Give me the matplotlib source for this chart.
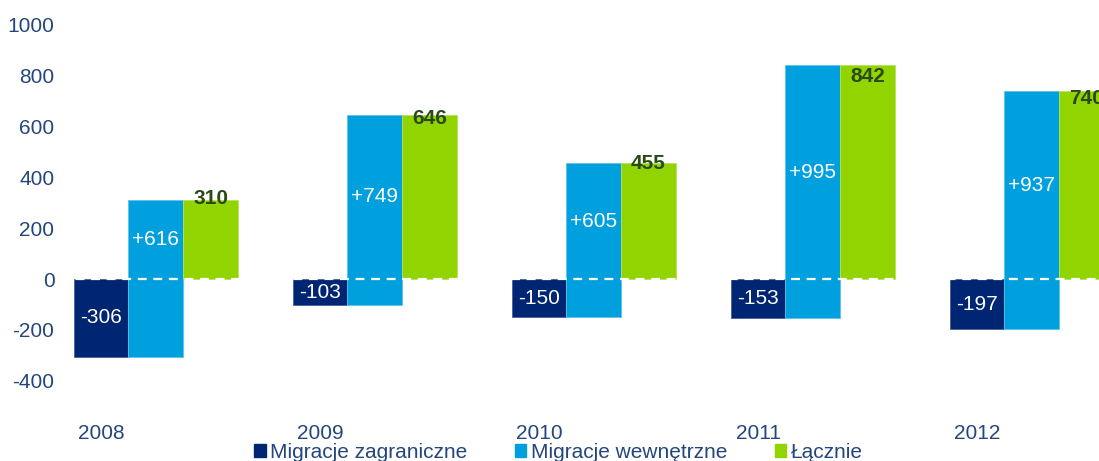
import matplotlib.pyplot as plt
import numpy as np

plt.rcParams['font.family'] = ['Liberation Sans', 'DejaVu Sans']
plt.rcParams['axes.unicode_minus'] = False

years = ['2008', '2009', '2010', '2011', '2012']
zagraniczne = [-306, -103, -150, -153, -197]
wewnetrzne = [616, 749, 605, 995, 937]
lacznie = [310, 646, 455, 842, 740]

c_dark = '#002673'
c_light = '#00A0DF'
c_green = '#92D400'
c_text = '#23467C'

# vertical nudge of the bold total labels (as placed in the original)
total_label_shift = [8, -14, 0, -46, -31]

fig = plt.figure(figsize=(10.99, 4.61), dpi=100)
# axes: left px 60, right px 1099, top px 25 (1000), bottom px 380.6 (-400)
ax = fig.add_axes([60 / 1099, 1 - 380.6 / 461, 1039 / 1099, (380.6 - 25) / 461])

x = np.arange(len(years))
w = 0.25

ax.bar(x, zagraniczne, width=w, color=c_dark, edgecolor='#4A5F9A', linewidth=0.6)
ax.bar(x + w, wewnetrzne, width=w, bottom=zagraniczne, color=c_light, edgecolor='#5CC3EC', linewidth=0.6)
ax.bar(x + 2 * w, lacznie, width=w, color=c_green, edgecolor='#B5E35A', linewidth=0.6)

ax.axhline(0, color='white', linestyle=(0, (4, 3)), linewidth=1.6)

for i in range(len(years)):
    ax.text(x[i], zagraniczne[i] / 2, str(zagraniczne[i]), color='white',
            ha='center', va='center', fontsize=15)
    ax.text(x[i] + w, lacznie[i] / 2, '+%d' % wewnetrzne[i], color='white',
            ha='center', va='center', fontsize=15)
    ax.text(x[i] + 2 * w, lacznie[i] + total_label_shift[i], str(lacznie[i]), color='#2A4A17',
            ha='center', va='center', fontsize=15, fontweight='bold')

ax.set_xlim((60 - 101) / 219, (1099 - 101) / 219)
ax.set_ylim(-400, 1000)
ax.set_yticks(range(-400, 1001, 200))
ax.set_xticks(x, years)
ax.tick_params(axis='both', length=0, labelsize=15, labelcolor=c_text)
ax.tick_params(axis='x', pad=31.5)
ax.tick_params(axis='y', pad=4)
for s in ax.spines.values():
    s.set_visible(False)

handles = [plt.Rectangle((0, 0), 1, 1, color=c) for c in (c_dark, c_light, c_green)]
leg = fig.legend(handles, ['Migracje zagraniczne', 'Migracje wewnętrzne', 'Łącznie'],
                 loc='lower center', bbox_to_anchor=(0.508, -0.042), ncol=3, frameon=False,
                 fontsize=15, handlelength=0.55, handleheight=0.55, handletextpad=0.2,
                 columnspacing=2.3)
for t in leg.get_texts():
    t.set_color(c_text)

fig.savefig('out.png', dpi=100)
